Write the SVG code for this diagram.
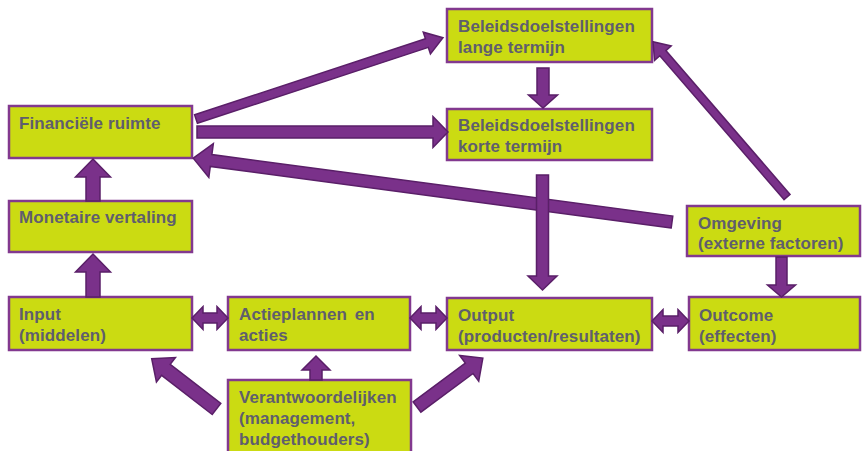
<svg xmlns="http://www.w3.org/2000/svg" width="862" height="451" viewBox="0 0 862 451">
<style>
.box{fill:#cbdb12;stroke:#82398f;stroke-width:2.5}
.lbl{font-family:"Liberation Sans",Arial,sans-serif;font-weight:bold;font-size:17px;letter-spacing:0.1px;fill:#5f5e6d}
.arr{fill:#7a318a;stroke:#5a1f68;stroke-width:1.5;stroke-linejoin:miter}
</style>
<rect width="862" height="451" fill="#ffffff"/>
<g id="nodes">
<g id="financiele-ruimte"><rect class="box" x="9" y="106" width="183" height="52"/><text class="lbl" x="19" y="129">Financiële ruimte</text></g>
<g id="monetaire-vertaling"><rect class="box" x="9" y="201" width="183" height="51"/><text class="lbl" x="19" y="223">Monetaire vertaling</text></g>
<g id="beleid-lang"><rect class="box" x="447" y="9" width="205" height="53"/><text class="lbl" x="458" y="32">Beleidsdoelstellingen</text><text class="lbl" x="458" y="53">lange termijn</text></g>
<g id="beleid-kort"><rect class="box" x="447" y="109" width="205" height="51"/><text class="lbl" x="458" y="131">Beleidsdoelstellingen</text><text class="lbl" x="458" y="152">korte termijn</text></g>
<g id="input"><rect class="box" x="9" y="297" width="183" height="53"/><text class="lbl" x="19" y="320">Input</text><text class="lbl" x="19" y="341">(middelen)</text></g>
<g id="actieplannen"><rect class="box" x="228" y="297" width="182" height="53"/><text class="lbl" x="239" y="320">Actieplannen <tspan dx="3">en</tspan></text><text class="lbl" x="239" y="341">acties</text></g>
<g id="output"><rect class="box" x="447" y="298" width="205" height="52"/><text class="lbl" x="458" y="321">Output</text><text class="lbl" x="458" y="342">(producten/resultaten)</text></g>
<g id="outcome"><rect class="box" x="689" y="297" width="171" height="53"/><text class="lbl" x="699" y="321">Outcome</text><text class="lbl" x="699" y="342">(effecten)</text></g>
<g id="omgeving"><rect class="box" x="687" y="206" width="173" height="50"/><text class="lbl" x="698" y="229">Omgeving</text><text class="lbl" x="698" y="249">(externe factoren)</text></g>
<g id="verantwoordelijken"><rect class="box" x="228" y="380" width="183" height="80"/><text class="lbl" x="239" y="403">Verantwoordelijken</text><text class="lbl" x="239" y="424">(management,</text><text class="lbl" x="239" y="445">budgethouders)</text></g>
</g>
<g id="connectors">
<polygon class="arr" transform="translate(93,201) rotate(-90)" points="0,-7 24,-7 24,-17.5 42,0 24,17.5 24,7 0,7"/>
<polygon class="arr" transform="translate(93,297) rotate(-90)" points="0,-7 25,-7 25,-17.5 43,0 25,17.5 25,7 0,7"/>
<polygon class="arr" transform="translate(192,318)" points="0,0 11,-11.5 11,-5 25,-5 25,-11.5 36,0 25,11.5 25,5 11,5 11,11.5"/>
<polygon class="arr" transform="translate(410,318)" points="0,0 11,-11.5 11,-5 26,-5 26,-11.5 37,0 26,11.5 26,5 11,5 11,11.5"/>
<polygon class="arr" transform="translate(652,321)" points="0,0 11,-11.5 11,-5 26,-5 26,-11.5 37,0 26,11.5 26,5 11,5 11,11.5"/>
<polygon class="arr" transform="translate(316,380) rotate(-90)" points="0,-6 10,-6 10,-14 24,0 10,14 10,6 0,6"/>
<polygon class="arr" transform="translate(216.5,409) rotate(217.8)" points="0,-7 64,-7 64,-15.5 82,0 64,15.5 64,7 0,7"/>
<polygon class="arr" transform="translate(417,407) rotate(-36.6)" points="0,-6.5 65,-6.5 65,-16 82,0 65,16 65,6.5 0,6.5"/>
<polygon class="arr" transform="translate(543,68) rotate(90)" points="0,-6 27,-6 27,-14.5 40,0 27,14.5 27,6 0,6"/>
<polygon class="arr" transform="translate(781.5,257) rotate(90)" points="0,-5.5 28,-5.5 28,-14 40,0 28,14 28,5.5 0,5.5"/>
<polygon class="arr" transform="translate(787,197) rotate(229.2)" points="0,-4 190,-4 190,-11 205,0 190,11 190,4 0,4"/>
<polygon class="arr" transform="translate(196,119) rotate(-18.2)" points="0,-4.5 243,-4.5 243,-11.5 260,0 243,11.5 243,4.5 0,4.5"/>
<polygon class="arr" transform="translate(197,132)" points="0,-6 236,-6 236,-15.5 251,0 236,15.5 236,6 0,6"/>
<polygon class="arr" transform="translate(672,222) rotate(187.6)" points="0,-6 465,-6 465,-17 483,0 465,17 465,6 0,6"/>
<polygon class="arr" transform="translate(542.5,175) rotate(90)" points="0,-6 101,-6 101,-14.5 115,0 101,14.5 101,6 0,6"/>
</g>
</svg>
